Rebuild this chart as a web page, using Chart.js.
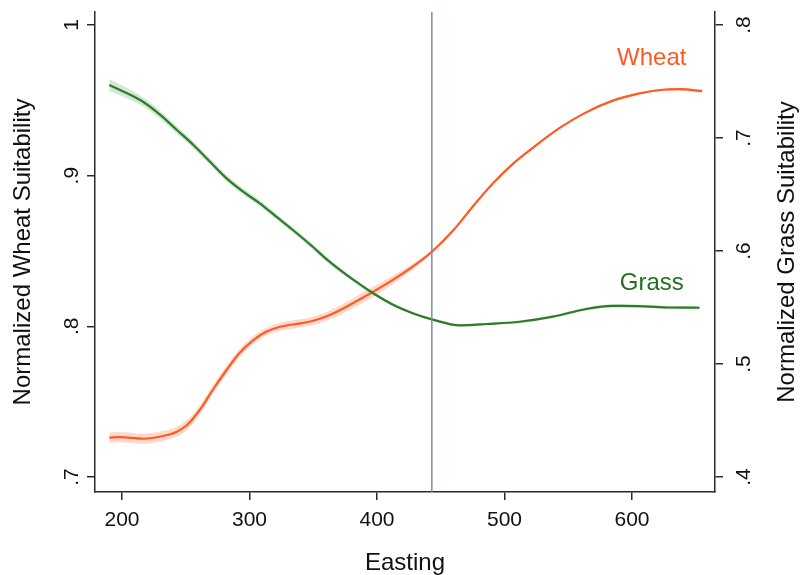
<!DOCTYPE html>
<html>
<head>
<meta charset="utf-8">
<script src="https://cdn.jsdelivr.net/npm/chart.js@4/dist/chart.umd.min.js"></script>
<style>
  html, body { margin: 0; padding: 0; background: #fff; }
  #wrap { width: 800px; height: 575px; }
</style>
</head>
<body>
<div id="wrap"><canvas id="c" width="800" height="575"></canvas></div>
<script>
// Local fit of wheat suitability (left axis) along easting
const eastingWheat = [190, 198, 217, 232, 243, 251, 261, 272, 282, 292, 303, 313, 324, 340, 350, 363, 381, 408, 428, 443, 460, 475, 491, 507, 523, 543, 564, 585, 606, 627, 638, 655];
const wheatFit     = [0.7261, 0.7265, 0.7254, 0.7272, 0.7301, 0.7345, 0.7445, 0.7589, 0.7710, 0.7821, 0.7909, 0.7964, 0.7997, 0.8020, 0.8037, 0.8075, 0.8153, 0.8285, 0.8396, 0.8495, 0.8639, 0.8794, 0.8949, 0.9082, 0.9190, 0.9315, 0.9420, 0.9498, 0.9546, 0.9572, 0.9574, 0.9561];
const wheatCI      = [0.0034, 0.0034, 0.0034, 0.0033, 0.0033, 0.0033, 0.0031, 0.0029, 0.0028, 0.0027, 0.0027, 0.0027, 0.0027, 0.0027, 0.0028, 0.0030, 0.0034, 0.0030, 0.0020, 0.0012, 0.0009, 0.0008, 0.0008, 0.0008, 0.0008, 0.0008, 0.0008, 0.0008, 0.0008, 0.0009, 0.0010, 0.0011];

// Local fit of grass suitability (right axis) along easting
const eastingGrass = [190, 204, 217, 230, 243, 256, 269, 282, 295, 308, 321, 334, 348, 362, 381, 397, 413, 428, 443, 465, 486, 512, 538, 564, 585, 604, 630, 653];
const grassFit     = [0.7469, 0.7396, 0.7316, 0.7204, 0.7071, 0.6938, 0.6790, 0.6643, 0.6525, 0.6422, 0.6304, 0.6186, 0.6053, 0.5912, 0.5748, 0.5626, 0.5522, 0.5449, 0.5395, 0.5342, 0.5354, 0.5374, 0.5419, 0.5487, 0.5514, 0.5513, 0.5500, 0.5498];
const grassCI      = [0.0052, 0.0046, 0.0040, 0.0036, 0.0034, 0.0032, 0.0030, 0.0029, 0.0028, 0.0027, 0.0026, 0.0025, 0.0024, 0.0022, 0.0018, 0.0015, 0.0013, 0.0012, 0.0011, 0.0011, 0.0011, 0.0011, 0.0012, 0.0013, 0.0014, 0.0014, 0.0014, 0.0015];

const eastingTicks = [200, 300, 400, 500, 600];
const wheatTicks   = [0.7, 0.8, 0.9, 1];
const grassTicks   = [0.4, 0.5, 0.6, 0.7, 0.8];
const cutoff = 443;

const WHEAT = '#ff5a22';
const GRASS = '#2b7d2b';
const AXIS = '#2b2b2b';
const FONT = '"Liberation Sans", Arial, sans-serif';

const pts = (xs, ys) => xs.map((x, i) => ({ x, y: ys[i] }));
const fmt = v => (Math.abs(v - 1) < 1e-9 ? '1' : v.toFixed(1).replace(/^0/, ''));

const curve = { pointRadius: 0, cubicInterpolationMode: 'monotone' };

const annotate = {
  id: 'annotate',
  afterDatasetsDraw(chart) {
    const { ctx, chartArea, scales } = chart;
    const x = scales.x.getPixelForValue(cutoff);
    ctx.save();
    ctx.strokeStyle = '#7a8ea4';
    ctx.lineWidth = 1.5;
    ctx.beginPath();
    ctx.moveTo(x, chartArea.top);
    ctx.lineTo(x, chartArea.bottom);
    ctx.stroke();
    ctx.restore();
  },
  afterDraw(chart) {
    const { ctx, scales, chartArea } = chart;
    const sx = scales.x, sw = scales.yW, sg = scales.yG;
    ctx.save();
    ctx.fillStyle = '#111';
    // easting ticks
    ctx.font = '21px ' + FONT;
    ctx.textAlign = 'center';
    ctx.textBaseline = 'alphabetic';
    eastingTicks.forEach(v => ctx.fillText(String(v), sx.getPixelForValue(v), 526));
    // vertical tick labels, reading upward
    const upText = (txt, x, y) => {
      ctx.save();
      ctx.translate(x, y);
      ctx.rotate(-Math.PI / 2);
      ctx.fillText(txt, 0, 0);
      ctx.restore();
    };
    wheatTicks.forEach(v => upText(fmt(v), 78, sw.getPixelForValue(v)));
    grassTicks.forEach(v => upText(fmt(v), 750, sg.getPixelForValue(v)));
    // axis titles
    ctx.font = '24px ' + FONT;
    const midY = (chartArea.top + chartArea.bottom) / 2;
    upText('Normalized Wheat Suitability', 30, midY);
    upText('Normalized Grass Suitability', 794, midY);
    ctx.fillText('Easting', (chartArea.left + chartArea.right) / 2, 570);
    // series labels
    ctx.fillStyle = WHEAT;
    ctx.fillText('Wheat', sx.getPixelForValue(615.5), sw.getPixelForValue(0.9734));
    ctx.fillStyle = '#1f6f1f';
    ctx.fillText('Grass', sx.getPixelForValue(615.5), sg.getPixelForValue(0.5655));
    ctx.restore();
  }
};

const axisStyle = {
  grid: { drawOnChartArea: false, drawTicks: true, tickLength: 8, color: AXIS, lineWidth: 1.5 },
  border: { display: true, color: AXIS, width: 1.5 },
  ticks: { display: false }
};

new Chart(document.getElementById('c'), {
  type: 'line',
  data: {
    datasets: [
      { ...curve, label: 'Grass', data: pts(eastingGrass, grassFit), yAxisID: 'yG', borderColor: GRASS, borderWidth: 2.2, fill: false },
      { ...curve, label: 'Wheat', data: pts(eastingWheat, wheatFit), yAxisID: 'yW', borderColor: WHEAT, borderWidth: 2.2, fill: false },
      { ...curve, label: 'wheat lo', data: pts(eastingWheat, wheatFit.map((v, i) => v - wheatCI[i])), yAxisID: 'yW', borderWidth: 0, borderColor: 'rgba(0,0,0,0)', fill: false },
      { ...curve, label: 'wheat hi', data: pts(eastingWheat, wheatFit.map((v, i) => v + wheatCI[i])), yAxisID: 'yW', borderWidth: 0, borderColor: 'rgba(0,0,0,0)', backgroundColor: 'rgba(255,120,80,0.28)', fill: '-1' },
      { ...curve, label: 'grass lo', data: pts(eastingGrass, grassFit.map((v, i) => v - grassCI[i])), yAxisID: 'yG', borderWidth: 0, borderColor: 'rgba(0,0,0,0)', fill: false },
      { ...curve, label: 'grass hi', data: pts(eastingGrass, grassFit.map((v, i) => v + grassCI[i])), yAxisID: 'yG', borderWidth: 0, borderColor: 'rgba(0,0,0,0)', backgroundColor: 'rgba(60,150,60,0.22)', fill: '-1' }
    ]
  },
  options: {
    responsive: false,
    animation: false,
    devicePixelRatio: 1,
    layout: { padding: { top: 12, left: 0, right: 0, bottom: 0 } },
    plugins: { legend: { display: false }, tooltip: { enabled: false } },
    scales: {
      x: {
        ...axisStyle, type: 'linear', position: 'bottom', min: 178.8, max: 665.1,
        afterBuildTicks: s => { s.ticks = eastingTicks.map(v => ({ value: v })); },
        afterFit: s => { s.height = 83; }
      },
      yW: {
        ...axisStyle, type: 'linear', position: 'left', min: 0.69004, max: 1.00863,
        afterBuildTicks: s => { s.ticks = wheatTicks.map(v => ({ value: v })); },
        afterFit: s => { s.width = 95; }
      },
      yG: {
        ...axisStyle, type: 'linear', position: 'right', min: 0.38673, max: 0.8115,
        afterBuildTicks: s => { s.ticks = grassTicks.map(v => ({ value: v })); },
        afterFit: s => { s.width = 85; }
      }
    }
  },
  plugins: [annotate]
});
</script>
</body>
</html>
